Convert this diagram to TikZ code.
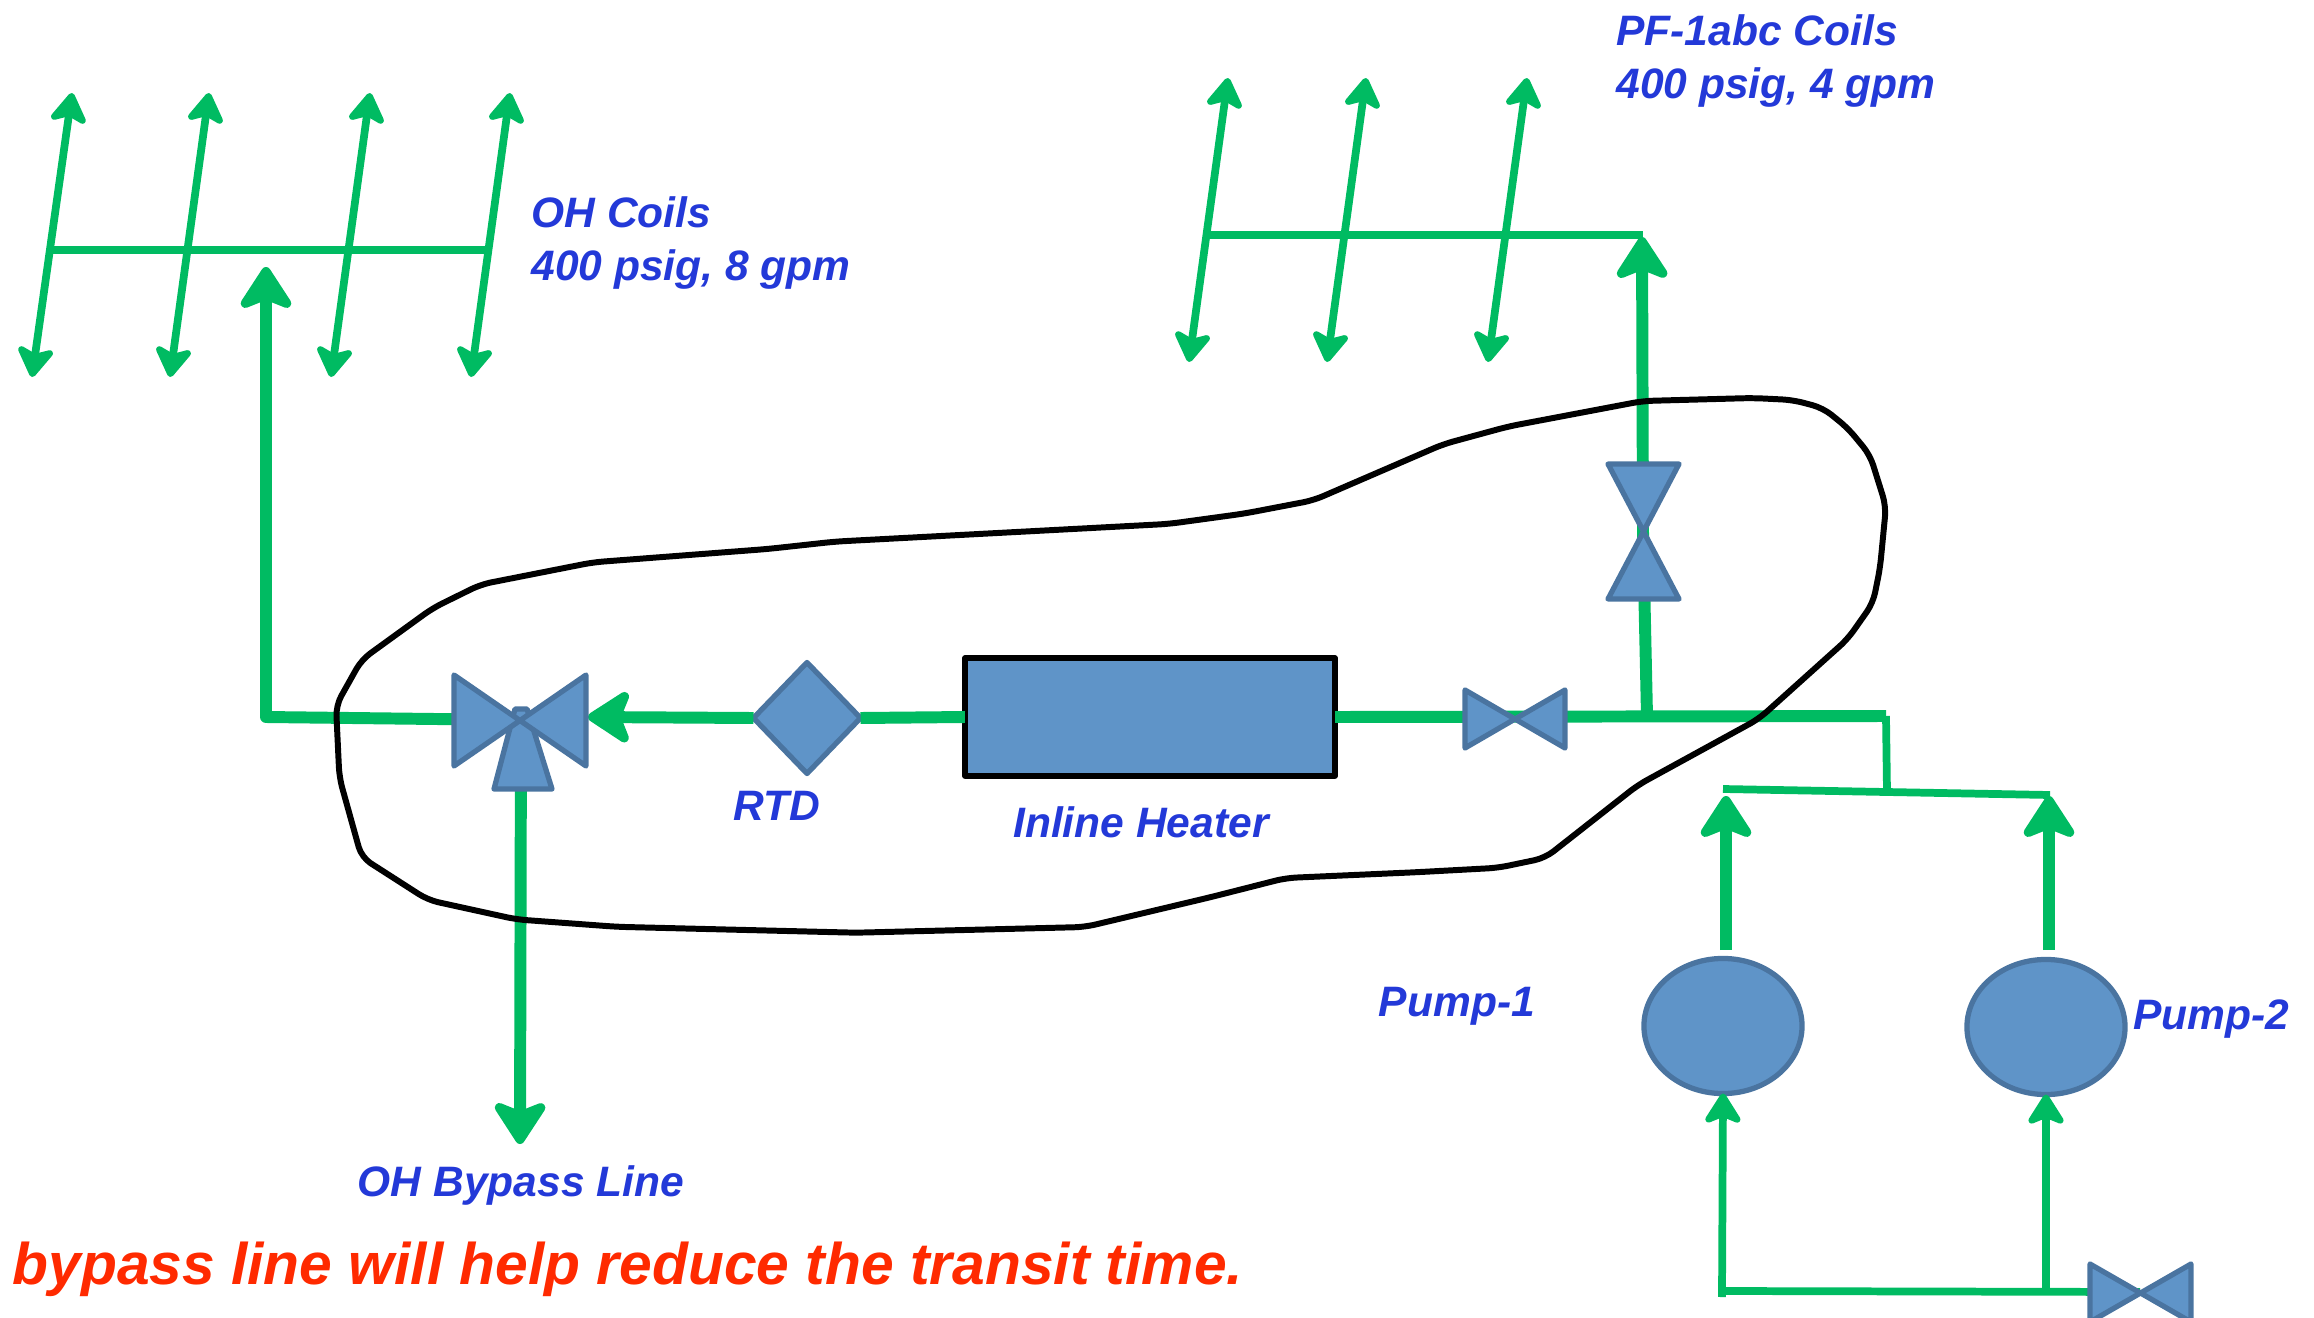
\documentclass[tikz,border=0pt]{standalone}
\usepackage{fontspec}
\setmainfont{Liberation Sans}
\usetikzlibrary{arrows.meta, positioning, shapes.geometric}
\definecolor{pipegreen}{HTML}{00BB62}
\definecolor{partblue}{HTML}{5F94C8}
\definecolor{partedge}{HTML}{4A74A0}
\definecolor{labelblue}{HTML}{2339D8}
\definecolor{notered}{HTML}{FF2A00}

\tikzset{
  thickpipe/.style={pipegreen, line width=3.4pt},
  thinpipe/.style={pipegreen, line width=2.2pt},
  bighead/.style={-{Stealth[length=14pt, width=18pt, inset=3.5pt, round, line width=3.4pt]}},
  smallhead/.style={-{Stealth[length=10pt, width=12.5pt, inset=2.5pt, round, line width=2.3pt]}},
  coilarrow/.style={thinpipe, {Stealth[length=10pt, width=12.5pt, inset=2.5pt, round, line width=2.3pt]}-{Stealth[length=10pt, width=12.5pt, inset=2.5pt, round, line width=2.3pt]}},
  part/.style={fill=partblue, draw=partedge, line width=1.5pt, line join=round, outer sep=0pt},
  partlabel/.style={text=labelblue, font=\bfseries\itshape\fontsize{12.1}{14.8}\selectfont, align=left},
}

\begin{document}
\begin{tikzpicture}[x=0.01cm, y=-0.01cm]

\useasboundingbox (0,0) rectangle (2314,1318);

% OH coil manifold
\coordinate (ohl) at (52,250);
\coordinate (ohr) at (487,250);
\coordinate (oh1t) at (72,93);
\coordinate (oh1b) at (32,377);
\coordinate (oh2t) at (209,93);
\coordinate (oh2b) at (170,377);
\coordinate (oh3t) at (370,93);
\coordinate (oh3b) at (331,377);
\coordinate (oh4t) at (510,93);
\coordinate (oh4b) at (471,377);
\draw[thinpipe] (ohl) -- (ohr);
\draw[coilarrow] (oh1b) -- (oh1t);
\draw[coilarrow] (oh2b) -- (oh2t);
\draw[coilarrow] (oh3b) -- (oh3t);
\draw[coilarrow] (oh4b) -- (oh4t);

% PF coil manifold
\coordinate (pfl) at (1209,235);
\coordinate (pfr) at (1643,235);
\coordinate (pf1t) at (1228,78);
\coordinate (pf1b) at (1189,362);
\coordinate (pf2t) at (1366,78);
\coordinate (pf2b) at (1327,362);
\coordinate (pf3t) at (1527,78);
\coordinate (pf3b) at (1488,362);
\draw[thinpipe] (pfl) -- (pfr);
\draw[coilarrow] (pf1b) -- (pf1t);
\draw[coilarrow] (pf2b) -- (pf2t);
\draw[coilarrow] (pf3b) -- (pf3t);

% Parts on the main line
\node[part, rectangle, draw=black, line width=1.7pt, minimum width=3.7cm, minimum height=1.17cm, inner sep=0pt] (heater) at (1150,717) {};
\node[part, diamond, aspect=0.96, minimum width=1.07cm, minimum height=1.11cm, inner sep=0pt] (rtd) at (807,718) {};
\coordinate (threeway) at (521,720);
\coordinate (heatervalve) at (1515,719);
\coordinate (pfvalve) at (1643,532);
\coordinate (returnvalve) at (2140,1292);

% Main line
\coordinate (ohcorner) at (266,717);
\coordinate (ohtip) at (266,267);
\coordinate (threewaytip) at (588,717);
\coordinate (pftee) at (1647,716);
\coordinate (mainend) at (1886,716);
\coordinate (pftip) at (1642,237);
\coordinate (bypasstip) at (520,1144);
\draw[thickpipe, bighead, line join=round] (threeway) -- (ohcorner) -- (ohtip);
\draw[thickpipe, bighead] (rtd.west) -- (threewaytip);
\draw[thickpipe] (heater.west) -- (rtd.east);
\draw[thickpipe] (heater.east) -- (mainend);
\draw[thickpipe] (pftee) -- (pfvalve);
\draw[thickpipe, bighead] (pfvalve) -- (pftip);
\draw[thickpipe, bighead] (threeway) -- (bypasstip);

% Pump header
\coordinate (headertee) at (1887,792);
\coordinate (headerl) at (1723,789);
\coordinate (headerr) at (2050,795);
\draw[thinpipe] (mainend) -- (headertee);
\draw[thinpipe] (headerl) -- (headerr);

% Pumps
\node[part, ellipse, minimum width=1.58cm, minimum height=1.35cm, inner sep=0pt] (pumpa) at (1723,1026) {};
\node[part, ellipse, minimum width=1.58cm, minimum height=1.35cm, inner sep=0pt] (pumpb) at (2046,1027) {};
\coordinate (pumpatip) at (1726,796);
\coordinate (pumpbtip) at (2049,796);
\coordinate (pumpaout) at (1726,950);
\coordinate (pumpbout) at (2049,950);
\draw[thickpipe, bighead] (pumpaout) -- (pumpatip);
\draw[thickpipe, bighead] (pumpbout) -- (pumpbtip);

% Return line
\coordinate (returna) at (1722,1297);
\coordinate (returnb) at (2046,1291);
\coordinate (returnc) at (1722,1291);
\draw[thinpipe] (returnc) -- (returnvalve);
\draw[thinpipe, smallhead] (returna) -- (pumpa.south);
\draw[thinpipe, smallhead] (returnb) -- (pumpb.south);

% Valves
\draw[part] (494,789) -- (552,789) -- (527,709) -- (515,709) -- cycle;
\draw[part] (454,675) -- (454,766) -- (586,675) -- (586,766) -- cycle;
\draw[part] (1465,690) -- (1465,748) -- (1565,690) -- (1565,748) -- cycle;
\draw[part] (1608,464) -- (1679,464) -- (1608,599) -- (1679,599) -- cycle;
\draw[part] (2090,1264) -- (2090,1322) -- (2191,1264) -- (2191,1322) -- cycle;

% Boundary of the changed section
\draw[black, line width=1.7pt, rounded corners=3pt, line join=round]
  (336,705.4) -- (361.6,659.7) -- (433,608) -- (481,584.4) -- (593.3,562.3)
  -- (767.4,549) -- (835.3,541.6) -- (1168.8,523.9) -- (1244,513.6) -- (1313.5,500.3)
  -- (1443.3,444.2) -- (1508.3,426.5) -- (1643,401) -- (1753,398) -- (1793,400)
  -- (1823,408) -- (1847.7,428) -- (1870,455) -- (1886,506.2) -- (1880,568.2)
  -- (1873,603) -- (1847.7,639) -- (1759,718.7) -- (1638,785) -- (1545,858)
  -- (1498,867.8) -- (1416.8,872.2) -- (1286,878) -- (1210,897.3) -- (1085,927)
  -- (856,932.7) -- (617,926.8) -- (516.5,919.4) -- (428,900) -- (361.6,857.4)
  -- (339.4,777.7) -- cycle;

% Labels
\node[partlabel, anchor=west] (ohcoils) at (519,243) {OH Coils\\400 psig, 8 gpm};
\node[partlabel, anchor=west] (pfcoils) at (1604,61) {PF-1abc Coils\\400 psig, 4 gpm};
\node[partlabel] (rtdlabel) at (777,806) {RTD};
\node[partlabel] (heaterlabel) at (1141,822) {Inline Heater};
\node[partlabel] (pumpalabel) at (1457,1006) {Pump-1};
\node[partlabel] (pumpblabel) at (2211,1019) {Pump-2};
\node[partlabel] (bypasslabel) at (521,1185) {OH Bypass Line};
\node[text=notered, font=\bfseries\itshape\fontsize{16.7}{20}\selectfont, anchor=west, inner sep=0pt] (note) at (12,1269)
  {bypass line will help reduce the transit time.};

\end{tikzpicture}
\end{document}
